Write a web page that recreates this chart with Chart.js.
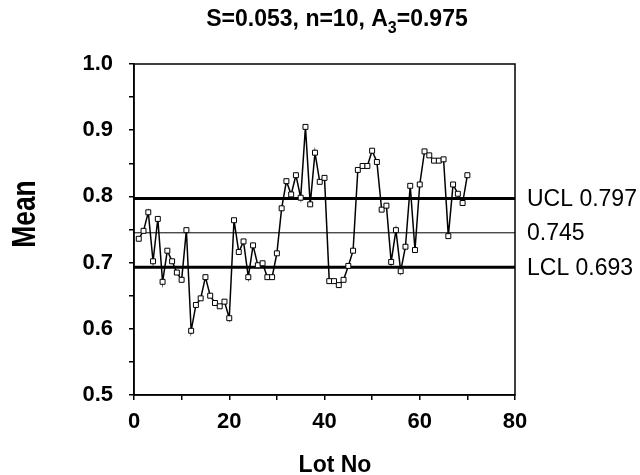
<!DOCTYPE html>
<html><head><meta charset="utf-8">
<script src="https://cdn.jsdelivr.net/npm/chart.js@4.4.0/dist/chart.umd.min.js"></script>
<style>html,body{margin:0;padding:0;background:#fff;}#wrap{width:640px;height:475px;}</style>
</head><body><div id="wrap"><canvas id="c" width="640" height="475"></canvas></div>
<script>
// ---- data ----
const lotNumbers = [1,2,3,4,5,6,7,8,9,10,11,12,13,14,15,16,17,18,19,20,
  21,22,23,24,25,26,27,28,29,30,31,32,33,34,35,36,37,38,39,40,
  41,42,43,44,45,46,47,48,49,50,51,52,53,54,55,56,57,58,59,60,
  61,62,63,64,65,66,67,68,69,70];
const lotMeans = [0.736,0.748,0.776,0.702,0.766,0.671,0.718,0.702,0.685,0.674,
  0.749,0.597,0.636,0.646,0.678,0.650,0.639,0.634,0.641,0.616,
  0.764,0.716,0.732,0.678,0.726,0.696,0.699,0.678,0.678,0.714,
  0.782,0.823,0.803,0.832,0.798,0.905,0.788,0.866,0.822,0.828,
  0.672,0.672,0.666,0.674,0.695,0.718,0.840,0.846,0.846,0.869,
  0.852,0.780,0.786,0.701,0.749,0.687,0.724,0.816,0.719,0.818,
  0.868,0.862,0.854,0.854,0.856,0.740,0.818,0.804,0.790,0.832];
const limitValues = [0.797, 0.745, 0.693];
const limitLabels = ['UCL 0.797', '0.745', 'LCL 0.693'];
const xRange = [0, 80];
const yRange = [0.5, 1.0];
const titleParts = ['S=0.053, n=10, A', '3', '=0.975'];
const xTitle = 'Lot No';
const yTitle = 'Mean';

// ---- styles ----
const limitWidths = [3, 1, 3];
const FONT = '"Liberation Sans", Arial, sans-serif';

const limitDatasets = limitValues.map((v, i) => ({
  data: [{x: xRange[0], y: v}, {x: xRange[1], y: v}],
  borderColor: '#000', borderWidth: limitWidths[i], pointRadius: 0, fill: false
}));

const textPlugin = {
  id: 'texts',
  afterDraw(chart) {
    const ctx = chart.ctx, ca = chart.chartArea, ys = chart.scales.y;
    ctx.save();
    // frame
    ctx.strokeStyle = '#000'; ctx.lineWidth = 1.5;
    ctx.strokeRect(ca.left, ca.top, ca.right - ca.left, ca.bottom - ca.top);
    ctx.fillStyle = '#000';
    // title with subscript
    const big = 'bold 23px ' + FONT, small = 'bold 16px ' + FONT;
    ctx.font = big; const w0 = ctx.measureText(titleParts[0]).width, w2 = ctx.measureText(titleParts[2]).width;
    ctx.font = small; const w1 = ctx.measureText(titleParts[1]).width;
    let x = 337 - (w0 + w1 + w2) / 2; const by = 26;
    ctx.textBaseline = 'alphabetic'; ctx.textAlign = 'left';
    ctx.font = big; ctx.fillText(titleParts[0], x, by); x += w0;
    ctx.font = small; ctx.fillText(titleParts[1], x, by + 7); x += w1;
    ctx.font = big; ctx.fillText(titleParts[2], x, by);
    // x title
    ctx.font = 'bold 23px ' + FONT; ctx.textAlign = 'center';
    ctx.fillText(xTitle, 335, 472);
    // y title (rotated, condensed)
    ctx.save();
    ctx.translate(35, 214); ctx.rotate(-Math.PI / 2); ctx.scale(0.8, 1);
    ctx.font = 'bold 33px ' + FONT; ctx.textAlign = 'center'; ctx.textBaseline = 'alphabetic';
    ctx.fillText(yTitle, 0, 0);
    ctx.restore();
    // limit labels
    ctx.font = '23px ' + FONT; ctx.textAlign = 'left'; ctx.textBaseline = 'middle';
    limitValues.forEach((v, i) => {
      ctx.fillText(limitLabels[i], ca.right + 12, ys.getPixelForValue(v) + 1);
    });
    ctx.restore();
  }
};

new Chart(document.getElementById('c'), {
  type: 'line',
  data: {
    datasets: [{
      data: lotNumbers.map((n, i) => ({x: n, y: lotMeans[i]})),
      borderColor: '#000', borderWidth: 1.5, tension: 0,
      pointStyle: 'rect', pointRadius: 3.5, pointBackgroundColor: '#fff',
      pointBorderColor: '#000', pointBorderWidth: 1
    }, ...limitDatasets]
  },
  options: {
    responsive: false, animation: false, devicePixelRatio: 1,
    layout: {padding: {left: 0, right: 125, top: 64, bottom: 0}},
    plugins: {legend: {display: false}, tooltip: {enabled: false}, title: {display: false}},
    scales: {
      x: {
        type: 'linear', min: xRange[0], max: xRange[1],
        border: {display: true, color: '#000', width: 1.5},
        grid: {drawOnChartArea: false, drawTicks: true, tickLength: 5, color: '#000', lineWidth: 1.5},
        ticks: {stepSize: 10, autoSkip: false, maxRotation: 0, padding: 9, color: '#000',
          font: {family: FONT, size: 22, weight: 'bold'},
          callback: v => (Math.round(v) % 20 === 0 ? String(Math.round(v)) : '')},
        afterFit: s => { s.height = 80; }
      },
      y: {
        min: yRange[0], max: yRange[1],
        border: {display: true, color: '#000', width: 1.5},
        grid: {drawOnChartArea: false, drawTicks: true, tickLength: 5, color: '#000', lineWidth: 1.5},
        ticks: {stepSize: 0.05, autoSkip: false, padding: 16, color: '#000',
          font: {family: FONT, size: 22, weight: 'bold'},
          callback: v => (Math.abs(v * 10 - Math.round(v * 10)) < 1e-6 ? v.toFixed(1) : '')},
        afterFit: s => { s.width = 134; }
      }
    }
  },
  plugins: [textPlugin]
});
</script></body></html>
